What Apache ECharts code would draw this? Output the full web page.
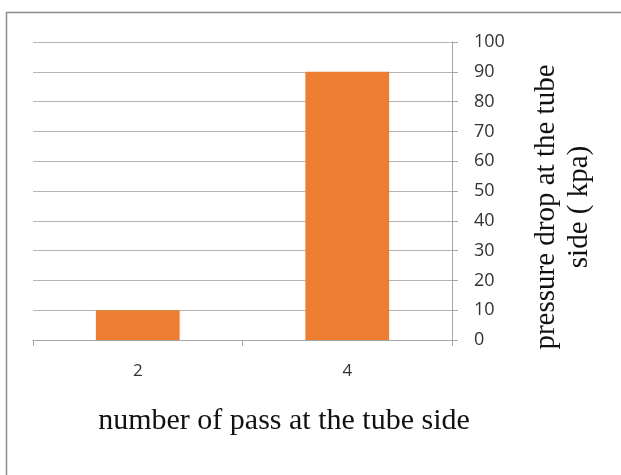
<!DOCTYPE html>
<html><head><meta charset="utf-8">
<script src="https://cdn.jsdelivr.net/npm/echarts@6/dist/echarts.min.js"></script>
<style>html,body{margin:0;padding:0;background:#fff}#c{width:621px;height:475px}</style>
</head><body><div id="c"></div>
<script>
var categories = ['2', '4'];
var pressureDrop = [10, 90];
var yTicks = {min: 0, max: 100, interval: 10};
var xName = 'number of pass at the tube side';
var yNameLines = ['pressure drop at the tube', 'side ( kpa)'];

var chart = echarts.init(document.getElementById('c'), null, {renderer: 'canvas'});
chart.setOption({
  animation: false,
  backgroundColor: '#fff',
  grid: {left: 33, right: 169, top: 42, bottom: 135},
  xAxis: {
    type: 'category', data: categories, boundaryGap: true,
    axisLine: {lineStyle: {color: '#a6a6a6', width: 1}},
    axisTick: {show: true, length: 6, lineStyle: {color: '#a6a6a6'}},
    axisLabel: {color: '#333', fontSize: 17, fontFamily: 'Open Sans', margin: 23}
  },
  yAxis: {
    type: 'value', position: 'right', min: yTicks.min, max: yTicks.max, interval: yTicks.interval,
    axisLine: {show: true, lineStyle: {color: '#a6a6a6'}},
    axisTick: {show: true, length: 6, lineStyle: {color: '#a6a6a6'}},
    splitLine: {lineStyle: {color: '#b5b5b5', width: 1}},
    axisLabel: {color: '#333', fontSize: 18, fontFamily: 'Open Sans', margin: 22, align: 'left'}
  },
  series: [{
    type: 'bar', data: pressureDrop, barWidth: '40%',
    itemStyle: {color: '#ED7D31'}
  }],
  graphic: [
    {type: 'rect', shape: {x: 6.5, y: 12.5, width: 640, height: 500}, style: {fill: 'none', stroke: '#8c8c8c', lineWidth: 1.5}, silent: true},
    {type: 'text', x: 284, y: 421, style: {text: xName, font: '30px "Liberation Serif"', fill: '#111', align: 'center', verticalAlign: 'middle'}},
    {type: 'text', x: 563, y: 207, rotation: Math.PI / 2, style: {text: yNameLines.join('\n'), font: '29px "Liberation Serif"', fill: '#111', align: 'center', verticalAlign: 'middle', lineHeight: 33}}
  ]
});
</script></body></html>
